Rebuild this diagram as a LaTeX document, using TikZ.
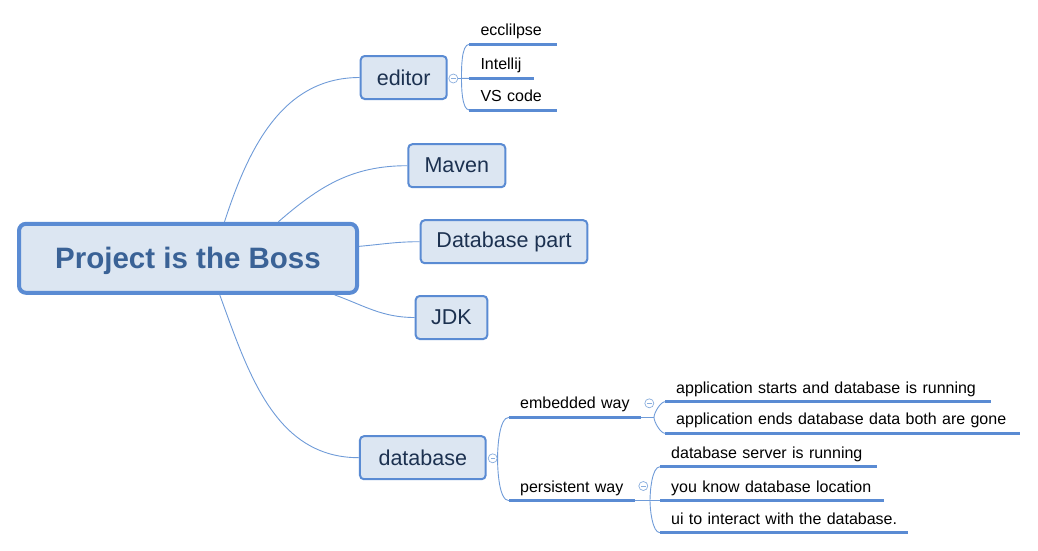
\documentclass[tikz,border=0pt]{standalone}
\usepackage{fontspec}
\setmainfont{Liberation Sans}

\definecolor{boxblue}{HTML}{5A8BD3}
\definecolor{boxfill}{HTML}{DCE6F2}
\definecolor{linkblue}{HTML}{6F9BD8}
\definecolor{foldblue}{HTML}{8AAEDD}
\definecolor{rootink}{HTML}{3A6296}
\definecolor{topicink}{HTML}{1C3150}

\tikzset{
  root/.style={draw=boxblue, line width=4pt, fill=boxfill, rounded corners=7pt,
    minimum width=338pt, minimum height=69pt, text=rootink, text depth=0pt,
    font=\fontsize{29.5}{34}\selectfont\bfseries},
  topic/.style={draw=boxblue, line width=2pt, fill=boxfill, rounded corners=4pt,
    minimum height=43pt, inner xsep=0pt, text=topicink,
    font=\fontsize{21.5}{25}\selectfont},
  leaf/.style={anchor=south west, inner xsep=11pt, inner ysep=4.5pt,
    text height=12pt, text depth=4pt, align=left,
    font=\fontsize{16}{19}\selectfont},
  uline/.style={boxblue, line width=3pt},
  link/.style={linkblue, line width=0.9pt},
  fold/.style={circle, draw=foldblue, fill=white, line width=0.7pt,
    minimum size=9pt, inner sep=0pt,
    path picture={\draw[foldblue, line width=0.7pt]
      ([xshift=-2.2pt]path picture bounding box.center) --
      ([xshift=2.2pt]path picture bounding box.center);}}
}

\begin{document}
\begin{tikzpicture}[x=1pt, y=-1pt]
\useasboundingbox (0,0) rectangle (1038,550);

% central topic
\node[root] (root) at (188,258.3) {Project is the Boss};

% main topics
\node[topic, minimum width=86pt] (editor) at (403.7,77.5) {editor};
\node[topic, minimum width=97pt] (maven) at (456.8,165.7) {Maven};
\node[topic, minimum width=166.6pt] (dbpart) at (504,241.7) {Database part};
\node[topic, minimum width=71.6pt] (jdk) at (451.5,317.5) {JDK};
\node[topic, minimum width=125.7pt] (database) at (422.8,457.7) {database};

\draw[link] (root.45) to[out=72,in=180] (editor.west);
\draw[link] (root.22) to[out=41,in=180] (maven.west);
\draw[link] (root.4.5) to[out=5,in=180] (dbpart.west);
\draw[link] (root.-14) to[out=-20,in=180] (jdk.west);
\draw[link] (root.-49) to[out=-70,in=180] (database.west);

% editor
\node[fold] (fe) at (453.3,78.5) {};
\node[leaf, text width=65pt] (ecl) at (469.3,44.3) {ecclilpse};
\node[leaf, text width=42pt] (idea) at (469.3,78.3) {Intellij};
\node[leaf, text width=65pt] (vsc) at (469.3,110) {VS code};
\coordinate (je) at (461.5,78.3);
\draw[link] (fe.east) -- (idea.south west);
\draw[link] (je) to[out=90,in=180,looseness=0.6] (ecl.south west);
\draw[link] (je) to[out=-90,in=180,looseness=0.6] (vsc.south west);

% database
\node[fold] (fd) at (492.7,458.3) {};
\node[leaf, text width=110pt] (emb) at (509,417.3) {embedded way};
\node[leaf, text width=104pt] (per) at (509,500.7) {persistent way};
\draw[link] (fd.east) to[out=90,in=180,looseness=0.6] (emb.south west);
\draw[link] (fd.east) to[out=-90,in=180,looseness=0.6] (per.south west);

% embedded way
\node[fold] (fem) at (649.3,403.3) {};
\node[leaf, text width=304pt] (app1) at (665,401.7) {application starts and database is running};
\node[leaf, text width=333pt] (app2) at (665,433.3) {application ends database data both are gone};
\coordinate (jem) at (654,417.3);
\draw[link] (emb.south east) -- (jem);
\draw[link] (jem) to[out=90,in=180,looseness=0.6] (app1.south west);
\draw[link] (jem) to[out=-90,in=180,looseness=0.6] (app2.south west);

% persistent way
\node[fold] (fper) at (643.3,486) {};
\node[leaf, text width=195pt] (srv) at (660,466.7) {database server is running};
\node[leaf, text width=202pt] (loc) at (660,500.7) {you know database location};
\node[leaf, text width=226pt] (ui) at (660,532.7) {ui to interact with the database.};
\coordinate (jper) at (650,500.7);
\draw[link] (per.south east) -- (loc.south west);
\draw[link] (jper) to[out=90,in=180,looseness=0.6] (srv.south west);
\draw[link] (jper) to[out=-90,in=180,looseness=0.6] (ui.south west);

% underlines
\foreach \n in {ecl,idea,vsc,emb,per,app1,app2,srv,loc,ui}
  \draw[uline] (\n.south west) -- (\n.south east);
\end{tikzpicture}
\end{document}
